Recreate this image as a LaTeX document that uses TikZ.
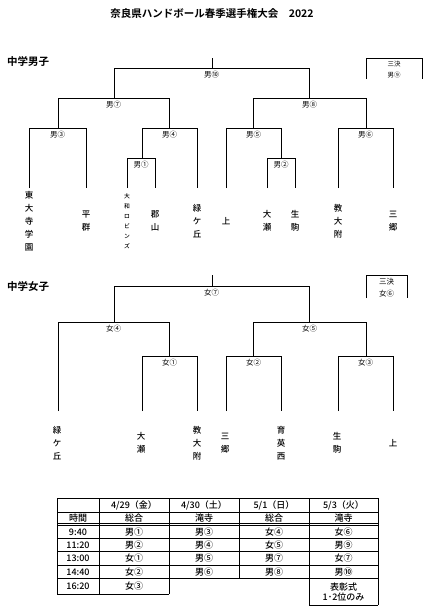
\documentclass[tikz,border=0pt]{standalone}
\usepackage{fontspec}
\setmainfont{Noto Sans CJK JP}[BoldFont={Noto Sans CJK JP Bold}]
\newfontfamily\medfont{Noto Sans CJK JP Medium}
\usetikzlibrary{positioning}
\tikzset{
  every node/.style={inner sep=0pt},
  ln/.style  ={line width=0.9pt, draw=black},
  tln/.style ={line width=0.7pt, draw=black},
  mlbl/.style={font=\fontsize{7.5}{8}\selectfont, anchor=north},
  team/.style={font=\medfont\fontsize{8.5}{13}\selectfont, align=center},
  teams/.style={font=\medfont\fontsize{5.8}{10}\selectfont, align=center},
  ttl/.style ={font=\bfseries\fontsize{10.5}{12}\selectfont},
  sec/.style ={font=\bfseries\fontsize{10.5}{12}\selectfont, anchor=west},
  cel/.style ={font=\medfont\fontsize{9}{10}\selectfont},
}
% one match of the bracket: name, x left, x right, y, left end, right end, label
\newcommand{\match}[7]{%
  \draw[ln] (#2,#5) -- (#2,#4) -- (#3,#4) -- (#3,#6);
  \node[mlbl] (#1) at ({(#2+#3)/2},#4+3) {#7};
}

\begin{document}
\begin{tikzpicture}[x=1pt,y=-1pt]
\useasboundingbox (0,0) rectangle (435,614);

\node[ttl] (title) at (212,13) {奈良県ハンドボール春季選手権大会　2022};

% ---------------- boys ---------------------------------------------------
\node[sec] (boys) at (7,61) {中学男子};
\draw[ln] (212,58) -- (212,68);
\match{m10}{114}{309}{68}{98}{98}{男⑩}
\match{m7}{58}{169}{98}{128}{128}{男⑦}
\match{m8}{253}{366}{98}{128}{128}{男⑧}
\match{m3}{29}{86}{128}{188}{188}{男③}
\match{m4}{142}{197}{128}{158}{188}{男④}
\match{m5}{226}{281}{128}{188}{158}{男⑤}
\match{m6}{338}{393}{128}{188}{188}{男⑥}
\match{m1}{127}{155}{158}{188}{188}{男①}
\match{m2}{267}{295}{158}{188}{188}{男②}

% third place
\draw[ln] (366,79) -- (366,58) -- (422,58) -- (422,79);
\node[font=\fontsize{6.5}{7}\selectfont] (m9a) at (394,64) {三決};
\node[font=\fontsize{6.5}{7}\selectfont] (m9) at (394,75) {男⑨};

\foreach \x/\t in {29/{東\\大\\寺\\学\\園}, 86/{平\\群}, 155/{郡\\山},
                   197/{緑\\ケ\\丘}, 226/{上}, 267/{大\\瀬}, 295/{生\\駒},
                   338/{教\\大\\附}, 393/{三\\郷}}
  \node[team] (mt\x) at (\x,221) {\t};
\node[teams] (mt127) at (127,221) {大\\和\\ロ\\ビ\\ン\\ズ};

% ---------------- girls --------------------------------------------------
\node[sec] (girls) at (7,286) {中学女子};
\draw[ln] (212,275) -- (212,286);
\match{w7}{114}{309}{286}{322}{322}{女⑦}
\match{w4}{58}{169}{322}{411}{356}{女④}
\match{w5}{253}{366}{322}{356}{356}{女⑤}
\match{w1}{142}{197}{356}{411}{411}{女①}
\match{w2}{226}{281}{356}{411}{411}{女②}
\match{w3}{338}{393}{356}{411}{411}{女③}

% third place
\draw[ln] (366,298) -- (366,275) -- (407,275) -- (407,298);
\node[font=\fontsize{7.5}{8}\selectfont] (w6a) at (386.5,282) {三決};
\node[font=\fontsize{7.5}{8}\selectfont] (w6) at (386.5,294) {女⑥};

\foreach \x/\t in {57/{緑\\ケ\\丘}, 141/{大\\瀬}, 197/{教\\大\\附}, 225/{三\\郷},
                   281/{育\\英\\西}, 337/{生\\駒}, 393/{上}}
  \node[team] (wt\x) at (\x,443) {\t};

% ---------------- schedule -----------------------------------------------
\foreach \y in {498,512,523.5,525.5,538.5,551.5,565,578.5}
  \draw[tln] (57,\y) -- (378,\y);
\draw[tln] (57,594) -- (169,594);
\draw[tln] (309,605) -- (378,605);
\foreach \x in {57,99,169} \draw[tln] (\x,498) -- (\x,594);
\draw[tln] (239,498) -- (239,578.5);
\foreach \x in {309,378} \draw[tln] (\x,498) -- (\x,605);

\node[cel] (d1) at (134,505) {4/29（金）};
\node[cel] (d2) at (204,505) {4/30（土）};
\node[cel] (d3) at (274,505) {5/1（日）};
\node[cel] (d4) at (343.5,505) {5/3（火）};
\node[cel] (tm) at (78,518) {時間};
\node[cel] (v1) at (134,518) {総合};
\node[cel] (v2) at (204,518) {滝寺};
\node[cel] (v3) at (274,518) {総合};
\node[cel] (v4) at (343.5,518) {滝寺};

\foreach \y/\t/\a/\b/\c/\d in {532/9:40/男①/男③/女④/女⑥,
                               545/11:20/男②/男④/女⑤/男⑨,
                               558.3/13:00/女①/男⑤/男⑦/女⑦,
                               571.8/14:40/女②/男⑥/男⑧/男⑩}{
  \node[cel] at (78,\y) {\t};
  \node[cel] at (134,\y) {\a};
  \node[cel] at (204,\y) {\b};
  \node[cel] at (274,\y) {\c};
  \node[cel] at (343.5,\y) {\d};
}
\node[cel] (t5) at (78,586.3) {16:20};
\node[cel] (g5) at (134,586.3) {女③};
\node[cel, align=center, font=\medfont\fontsize{9}{10.5}\selectfont] (aw) at (343.5,592) {表彰式\\1･2位のみ};

\end{tikzpicture}
\end{document}
